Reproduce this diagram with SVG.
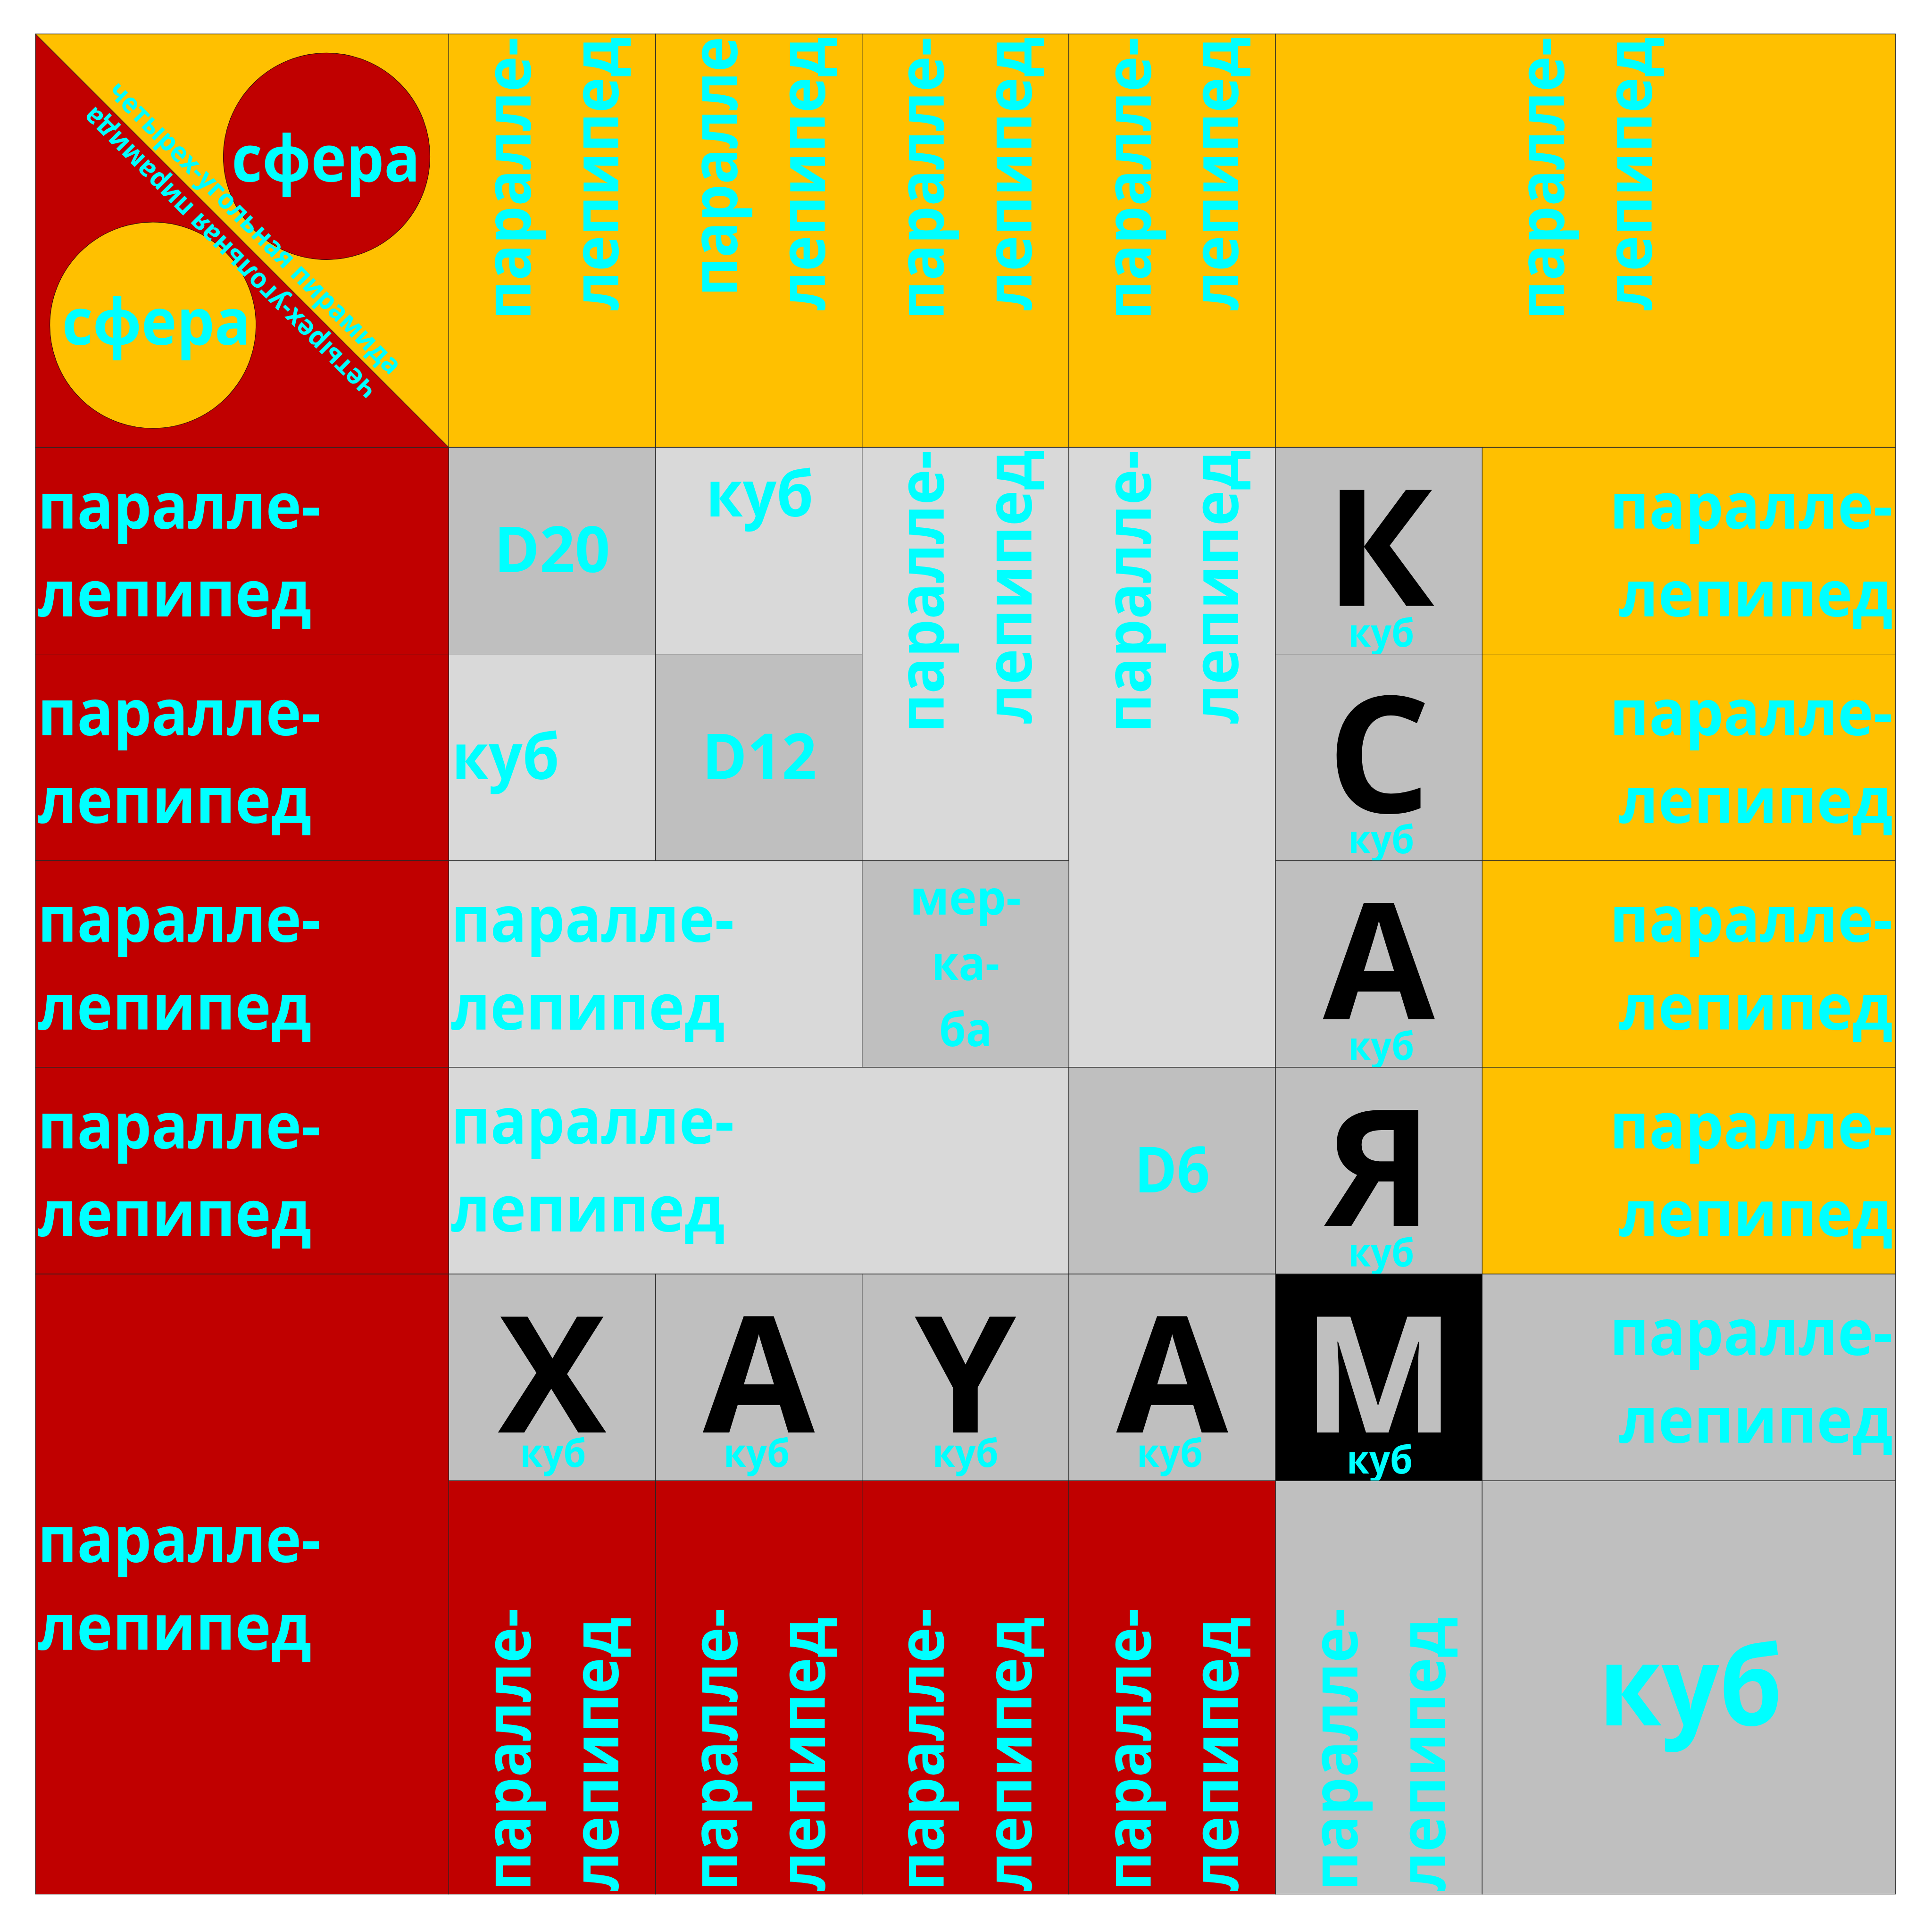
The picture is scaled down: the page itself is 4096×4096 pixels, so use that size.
<svg xmlns="http://www.w3.org/2000/svg" width="4096" height="4096" viewBox="0 0 4096 4096">
<style>
.t{font-family:"Open Sans","Noto Sans","DejaVu Sans",sans-serif;font-weight:700;fill:#00FFFF}
.m{font-size:135px}
.s{font-size:82px}
.big{font-size:344px;font-family:"Open Sans","Noto Sans","DejaVu Sans",sans-serif;font-weight:700;fill:#000}
.c{text-anchor:middle}
.e{text-anchor:end}
.cell{stroke:#262626;stroke-width:1.2}
.red{fill:#C00000}
.org{fill:#FFC000}
.dg{fill:#BFBFBF}
.lg{fill:#D9D9D9}
.blk{fill:#000}
</style>
<rect width="4096" height="4096" fill="#FFFFFF"/>

<g id="corner">
<polygon points="75.1,72 75.1,948.4 951.4,948.4" class="red"/>
<polygon points="75.1,72 951.4,72 951.4,948.4" class="org"/>
<line x1="75.1" y1="72" x2="951.4" y2="948.4" stroke="#262626" stroke-width="1.2"/>
<rect x="75.1" y="72" width="876.3" height="876.4" fill="none" class="cell"/>
<circle cx="692.5" cy="331.4" r="219" class="red" stroke="#3a0a0a" stroke-width="1.2"/>
<circle cx="324.2" cy="689.5" r="218.6" class="org" stroke="#3a0a0a" stroke-width="1.2"/>
<text class="t c" x="690.9" y="384.9" font-size="137" textLength="400" lengthAdjust="spacingAndGlyphs">сфера</text>
<text class="t c" x="331.5" y="730.7" font-size="137" textLength="400" lengthAdjust="spacingAndGlyphs">сфера</text>
<text class="t c" transform="translate(513.3,510.2) rotate(45)" x="0" y="-19" font-size="58" textLength="850" lengthAdjust="spacingAndGlyphs">четырех-угольная пирамида</text>
<text class="t c" transform="translate(513.3,510.2) rotate(225)" x="0" y="-19" font-size="58" textLength="850" lengthAdjust="spacingAndGlyphs">четырех-угольная пирамида</text>
</g>

<g id="top-c2">
<rect x="951.4" y="72" width="438.2" height="876.4" class="org cell"/>
<text class="t m e" transform="translate(1125,78) rotate(-90)" textLength="600" lengthAdjust="spacingAndGlyphs">паралле-</text>
<text class="t m e" transform="translate(1310.7,78) rotate(-90)" textLength="580" lengthAdjust="spacingAndGlyphs">лепипед</text>
</g>
<g id="top-c3">
<rect x="1389.6" y="72" width="438.2" height="876.4" class="org cell"/>
<text class="t m e" transform="translate(1563.2,78) rotate(-90)" textLength="550" lengthAdjust="spacingAndGlyphs">паралле</text>
<text class="t m e" transform="translate(1748.9,78) rotate(-90)" textLength="580" lengthAdjust="spacingAndGlyphs">лепипед</text>
</g>
<g id="top-c4">
<rect x="1827.8" y="72" width="438.2" height="876.4" class="org cell"/>
<text class="t m e" transform="translate(2001.4,78) rotate(-90)" textLength="600" lengthAdjust="spacingAndGlyphs">паралле-</text>
<text class="t m e" transform="translate(2187.1,78) rotate(-90)" textLength="580" lengthAdjust="spacingAndGlyphs">лепипед</text>
</g>
<g id="top-c5">
<rect x="2266" y="72" width="438.2" height="876.4" class="org cell"/>
<text class="t m e" transform="translate(2439.6,78) rotate(-90)" textLength="600" lengthAdjust="spacingAndGlyphs">паралле-</text>
<text class="t m e" transform="translate(2625.3,78) rotate(-90)" textLength="580" lengthAdjust="spacingAndGlyphs">лепипед</text>
</g>
<g id="top-c6-8">
<rect x="2704.2" y="72" width="1314.5" height="876.4" class="org cell"/>
<text class="t m e" transform="translate(3316,78) rotate(-90)" textLength="600" lengthAdjust="spacingAndGlyphs">паралле-</text>
<text class="t m e" transform="translate(3501.7,78) rotate(-90)" textLength="580" lengthAdjust="spacingAndGlyphs">лепипед</text>
</g>

<g id="left-r2">
<rect x="75.1" y="948.4" width="876.3" height="438.2" class="red cell"/>
<text class="t m" x="80" y="1120.6" textLength="600" lengthAdjust="spacingAndGlyphs">паралле-</text>
<text class="t m" x="80" y="1306.7" textLength="580" lengthAdjust="spacingAndGlyphs">лепипед</text>
</g>
<g id="left-r3">
<rect x="75.1" y="1386.6" width="876.3" height="438.2" class="red cell"/>
<text class="t m" x="80" y="1558.8" textLength="600" lengthAdjust="spacingAndGlyphs">паралле-</text>
<text class="t m" x="80" y="1744.9" textLength="580" lengthAdjust="spacingAndGlyphs">лепипед</text>
</g>
<g id="left-r4">
<rect x="75.1" y="1824.8" width="876.3" height="438.1" class="red cell"/>
<text class="t m" x="80" y="1997" textLength="600" lengthAdjust="spacingAndGlyphs">паралле-</text>
<text class="t m" x="80" y="2183.1" textLength="580" lengthAdjust="spacingAndGlyphs">лепипед</text>
</g>
<g id="left-r5">
<rect x="75.1" y="2262.9" width="876.3" height="438.2" class="red cell"/>
<text class="t m" x="80" y="2435.1" textLength="600" lengthAdjust="spacingAndGlyphs">паралле-</text>
<text class="t m" x="80" y="2621.2" textLength="580" lengthAdjust="spacingAndGlyphs">лепипед</text>
</g>
<g id="left-r6-8">
<rect x="75.1" y="2701.1" width="876.3" height="1314.6" class="red cell"/>
<text class="t m" x="80" y="3311.5" textLength="600" lengthAdjust="spacingAndGlyphs">паралле-</text>
<text class="t m" x="80" y="3497.6" textLength="580" lengthAdjust="spacingAndGlyphs">лепипед</text>
</g>

<g id="right-r2">
<rect x="3142.3" y="948.4" width="876.4" height="438.2" class="org cell"/>
<text class="t m e" x="4012.7" y="1120.6" textLength="600" lengthAdjust="spacingAndGlyphs">паралле-</text>
<text class="t m e" x="4012.7" y="1306.7" textLength="580" lengthAdjust="spacingAndGlyphs">лепипед</text>
</g>
<g id="right-r3">
<rect x="3142.3" y="1386.6" width="876.4" height="438.2" class="org cell"/>
<text class="t m e" x="4012.7" y="1558.8" textLength="600" lengthAdjust="spacingAndGlyphs">паралле-</text>
<text class="t m e" x="4012.7" y="1744.9" textLength="580" lengthAdjust="spacingAndGlyphs">лепипед</text>
</g>
<g id="right-r4">
<rect x="3142.3" y="1824.8" width="876.4" height="438.1" class="org cell"/>
<text class="t m e" x="4012.7" y="1997" textLength="600" lengthAdjust="spacingAndGlyphs">паралле-</text>
<text class="t m e" x="4012.7" y="2183.1" textLength="580" lengthAdjust="spacingAndGlyphs">лепипед</text>
</g>
<g id="right-r5">
<rect x="3142.3" y="2262.9" width="876.4" height="438.2" class="org cell"/>
<text class="t m e" x="4012.7" y="2435.1" textLength="600" lengthAdjust="spacingAndGlyphs">паралле-</text>
<text class="t m e" x="4012.7" y="2621.2" textLength="580" lengthAdjust="spacingAndGlyphs">лепипед</text>
</g>
<g id="right-r6">
<rect x="3142.3" y="2701.1" width="876.4" height="438.2" class="dg cell"/>
<text class="t m e" x="4012.7" y="2873.3" textLength="600" lengthAdjust="spacingAndGlyphs">паралле-</text>
<text class="t m e" x="4012.7" y="3059.4" textLength="580" lengthAdjust="spacingAndGlyphs">лепипед</text>
</g>

<g id="d20">
<rect x="951.4" y="948.4" width="438.2" height="438.2" class="dg cell"/>
<text class="t m c" x="1170.5" y="1213.4" textLength="246" lengthAdjust="spacingAndGlyphs">D20</text>
</g>
<g id="kub-r2c3">
<rect x="1389.6" y="948.4" width="438.2" height="438.2" class="lg cell"/>
<text class="t m c" x="1610.7" y="1095.1" textLength="228" lengthAdjust="spacingAndGlyphs">куб</text>
</g>
<g id="kub-r3c2">
<rect x="951.4" y="1386.6" width="438.2" height="438.2" class="lg cell"/>
<text class="t m" x="958" y="1651.5" textLength="228" lengthAdjust="spacingAndGlyphs">куб</text>
</g>
<g id="d12">
<rect x="1389.6" y="1386.6" width="438.2" height="438.2" class="dg cell"/>
<text class="t m c" x="1610" y="1651.5" textLength="243" lengthAdjust="spacingAndGlyphs">D12</text>
</g>
<g id="par-c4">
<rect x="1827.8" y="948.4" width="438.2" height="876.4" class="lg cell"/>
<text class="t m e" transform="translate(2001.4,954) rotate(-90)" textLength="600" lengthAdjust="spacingAndGlyphs">паралле-</text>
<text class="t m e" transform="translate(2187.1,954) rotate(-90)" textLength="580" lengthAdjust="spacingAndGlyphs">лепипед</text>
</g>
<g id="par-c5">
<rect x="2266" y="948.4" width="438.2" height="1314.5" class="lg cell"/>
<text class="t m e" transform="translate(2439.6,954) rotate(-90)" textLength="600" lengthAdjust="spacingAndGlyphs">паралле-</text>
<text class="t m e" transform="translate(2625.3,954) rotate(-90)" textLength="580" lengthAdjust="spacingAndGlyphs">лепипед</text>
</g>
<g id="par-r4">
<rect x="951.4" y="1824.8" width="876.4" height="438.1" class="lg cell"/>
<text class="t m" x="956.4" y="1997" textLength="600" lengthAdjust="spacingAndGlyphs">паралле-</text>
<text class="t m" x="956.4" y="2183.1" textLength="580" lengthAdjust="spacingAndGlyphs">лепипед</text>
</g>
<g id="merkaba">
<rect x="1827.8" y="1824.8" width="438.2" height="438.1" class="dg cell"/>
<text class="t c" font-size="101" x="2046.9" y="1938.5" textLength="236" lengthAdjust="spacingAndGlyphs">мер-</text>
<text class="t c" font-size="101" x="2046.9" y="2077.8" textLength="144" lengthAdjust="spacingAndGlyphs">ка-</text>
<text class="t c" font-size="101" x="2046.9" y="2217.6" textLength="112" lengthAdjust="spacingAndGlyphs">ба</text>
</g>
<g id="par-r5">
<rect x="951.4" y="2262.9" width="1314.6" height="438.2" class="lg cell"/>
<text class="t m" x="956.4" y="2425" textLength="600" lengthAdjust="spacingAndGlyphs">паралле-</text>
<text class="t m" x="956.4" y="2611" textLength="580" lengthAdjust="spacingAndGlyphs">лепипед</text>
</g>
<g id="d6">
<rect x="2266" y="2262.9" width="438.2" height="438.2" class="dg cell"/>
<text class="t m c" x="2485.1" y="2527.9" textLength="160" lengthAdjust="spacingAndGlyphs">D6</text>
</g>

<g id="K">
<rect x="2704.2" y="948.4" width="438.1" height="438.2" class="dg cell"/>
<text class="big c" x="2925" y="1284.4">К</text>
<text class="t s c" x="2928.3" y="1370.8" textLength="140" lengthAdjust="spacingAndGlyphs">куб</text>
</g>
<g id="S">
<rect x="2704.2" y="1386.6" width="438.1" height="438.2" class="dg cell"/>
<text class="big c" x="2923.3" y="1722.6">С</text>
<text class="t s c" x="2928.3" y="1809" textLength="140" lengthAdjust="spacingAndGlyphs">куб</text>
</g>
<g id="A1">
<rect x="2704.2" y="1824.8" width="438.1" height="438.1" class="dg cell"/>
<text class="big c" x="2923.3" y="2160.8">А</text>
<text class="t s c" x="2928.3" y="2247.2" textLength="140" lengthAdjust="spacingAndGlyphs">куб</text>
</g>
<g id="YA">
<rect x="2704.2" y="2262.9" width="438.1" height="438.2" class="dg cell"/>
<text class="big c" x="2923.3" y="2598.9">Я</text>
<text class="t s c" x="2928.3" y="2685.3" textLength="140" lengthAdjust="spacingAndGlyphs">куб</text>
</g>

<g id="X">
<rect x="951.4" y="2701.1" width="438.2" height="438.2" class="dg cell"/>
<text class="big c" x="1170.5" y="3037.1">Х</text>
<text class="t s c" x="1172.5" y="3110" textLength="140" lengthAdjust="spacingAndGlyphs">куб</text>
</g>
<g id="A2">
<rect x="1389.6" y="2701.1" width="438.2" height="438.2" class="dg cell"/>
<text class="big c" x="1608.7" y="3037.1">А</text>
<text class="t s c" x="1604" y="3110" textLength="140" lengthAdjust="spacingAndGlyphs">куб</text>
</g>
<g id="Y">
<rect x="1827.8" y="2701.1" width="438.2" height="438.2" class="dg cell"/>
<text class="big c" x="2046.9" y="3037.1">Y</text>
<text class="t s c" x="2046.9" y="3110" textLength="140" lengthAdjust="spacingAndGlyphs">куб</text>
</g>
<g id="A3">
<rect x="2266" y="2701.1" width="438.2" height="438.2" class="dg cell"/>
<text class="big c" x="2485.1" y="3037.1">А</text>
<text class="t s c" x="2480" y="3110" textLength="140" lengthAdjust="spacingAndGlyphs">куб</text>
</g>
<g id="M">
<rect x="2704.2" y="2701.1" width="438.1" height="438.2" class="blk cell"/>
<text class="big c" x="2923.3" y="3037.1" style="fill:#BFBFBF">М</text>
<text class="t s c" x="2925" y="3123.5" textLength="140" lengthAdjust="spacingAndGlyphs">куб</text>
</g>

<g id="bot-c2">
<rect x="951.4" y="3139.3" width="438.2" height="876.4" class="red cell"/>
<text class="t m" transform="translate(1125,4009) rotate(-90)" textLength="600" lengthAdjust="spacingAndGlyphs">паралле-</text>
<text class="t m" transform="translate(1310.7,4009) rotate(-90)" textLength="580" lengthAdjust="spacingAndGlyphs">лепипед</text>
</g>
<g id="bot-c3">
<rect x="1389.6" y="3139.3" width="438.2" height="876.4" class="red cell"/>
<text class="t m" transform="translate(1563.2,4009) rotate(-90)" textLength="600" lengthAdjust="spacingAndGlyphs">паралле-</text>
<text class="t m" transform="translate(1748.9,4009) rotate(-90)" textLength="580" lengthAdjust="spacingAndGlyphs">лепипед</text>
</g>
<g id="bot-c4">
<rect x="1827.8" y="3139.3" width="438.2" height="876.4" class="red cell"/>
<text class="t m" transform="translate(2001.4,4009) rotate(-90)" textLength="600" lengthAdjust="spacingAndGlyphs">паралле-</text>
<text class="t m" transform="translate(2187.1,4009) rotate(-90)" textLength="580" lengthAdjust="spacingAndGlyphs">лепипед</text>
</g>
<g id="bot-c5">
<rect x="2266" y="3139.3" width="438.2" height="876.4" class="red cell"/>
<text class="t m" transform="translate(2439.6,4009) rotate(-90)" textLength="600" lengthAdjust="spacingAndGlyphs">паралле-</text>
<text class="t m" transform="translate(2625.3,4009) rotate(-90)" textLength="580" lengthAdjust="spacingAndGlyphs">лепипед</text>
</g>
<g id="bot-c6">
<rect x="2704.2" y="3139.3" width="438.1" height="876.4" class="dg cell"/>
<text class="t m" transform="translate(2877.8,4009) rotate(-90)" textLength="600" lengthAdjust="spacingAndGlyphs">паралле-</text>
<text class="t m" transform="translate(3063.5,4009) rotate(-90)" textLength="580" lengthAdjust="spacingAndGlyphs">лепипед</text>
</g>
<g id="big-kub">
<rect x="3142.3" y="3139.3" width="876.4" height="876.4" class="dg cell"/>
<text class="t c" font-size="235" x="3584" y="3657.7" textLength="390" lengthAdjust="spacingAndGlyphs">куб</text>
</g>

<g id="connectors"></g>
</svg>
